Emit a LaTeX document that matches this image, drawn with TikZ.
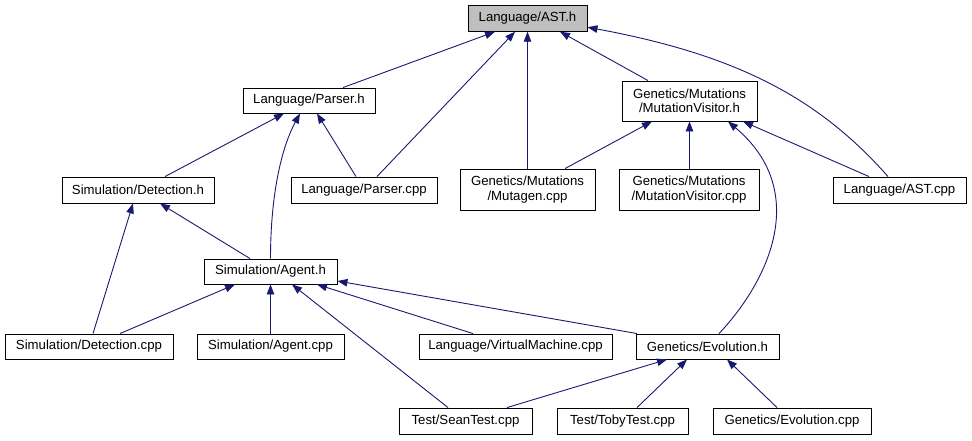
\documentclass[tikz,border=0pt]{standalone}
\usepackage{fontspec}
\setmainfont{Liberation Sans}
\usetikzlibrary{arrows.meta}
\definecolor{navy}{HTML}{191970}
\definecolor{nodegray}{HTML}{BFBFBF}
\tikzset{
  nd/.style={draw=black, line width=0.9pt, fill=white, inner sep=0pt, align=center,
    text=black, font=\fontsize{13.2}{14.5}\selectfont},
  edge/.style={draw=navy, line width=0.9pt, arrows={Triangle[length=10pt,width=7.5pt,fill=navy]-}},
}
\begin{document}
\begin{tikzpicture}[x=1pt,y=-1pt]
\useasboundingbox (0,0) rectangle (972,440);
% nodes
\node[nd, fill=nodegray, minimum width=119pt, minimum height=26pt] (asth) at (527.5,18.25) {Language/AST.h};
\node[nd, minimum width=132pt, minimum height=25pt] (parserh) at (309,100.5) {Language/Parser.h};
\node[nd, minimum width=135pt, minimum height=40pt] (mvh) at (689.5,101) {Genetics/Mutations\\/MutationVisitor.h};
\node[nd, minimum width=152pt, minimum height=26pt] (deth) at (138,190) {Simulation/Detection.h};
\node[nd, minimum width=146pt, minimum height=26pt] (parsercpp) at (364,190) {Language/Parser.cpp};
\node[nd, minimum width=135pt, minimum height=41pt] (mutagen) at (527.5,189.5) {Genetics/Mutations\\/Mutagen.cpp};
\node[nd, minimum width=140pt, minimum height=41pt] (mvcpp) at (689,189.5) {Genetics/Mutations\\/MutationVisitor.cpp};
\node[nd, minimum width=133pt, minimum height=26pt] (astcpp) at (899.5,190) {Language/AST.cpp};
\node[nd, minimum width=133pt, minimum height=25pt] (agenth) at (270.5,271.5) {Simulation/Agent.h};
\node[nd, minimum width=168pt, minimum height=25pt] (detcpp) at (89,346.5) {Simulation/Detection.cpp};
\node[nd, minimum width=147pt, minimum height=25pt] (agentcpp) at (270.5,346.5) {Simulation/Agent.cpp};
\node[nd, minimum width=193pt, minimum height=25pt] (vmcpp) at (515.5,346.5) {Language/VirtualMachine.cpp};
\node[nd, minimum width=143pt, minimum height=25pt] (evoh) at (707.5,346.5) {Genetics/Evolution.h};
\node[nd, minimum width=133pt, minimum height=26pt] (sean) at (465.5,421) {Test/SeanTest.cpp};
\node[nd, minimum width=131pt, minimum height=26pt] (toby) at (622.5,421) {Test/TobyTest.cpp};
\node[nd, minimum width=158pt, minimum height=26pt] (evocpp) at (792,421) {Genetics/Evolution.cpp};
% edges into AST.h
\draw[edge] ([xshift=-32.5pt]asth.south) -- ([xshift=34pt]parserh.north);
\draw[edge] ([xshift=-12.5pt]asth.south) -- ([xshift=13pt]parsercpp.north);
\draw[edge] (asth.south) -- (mutagen.north);
\draw[edge] ([xshift=32.5pt]asth.south) -- ([xshift=-41.5pt]mvh.north);
\draw[edge] ([yshift=-9pt]asth.east) .. controls +(152,28) and +(-68,-77) .. ([xshift=-11.5pt]astcpp.north);
% edges into Parser.h
\draw[edge] ([xshift=-25pt]parserh.south) -- ([xshift=27pt]deth.north);
\draw[edge] ([xshift=-9pt]parserh.south) .. controls +(-20,37) and +(0,-59) .. (agenth.north);
\draw[edge] ([xshift=8pt]parserh.south) -- ([xshift=-8pt]parsercpp.north);
% edges into MutationVisitor.h
\draw[edge] ([xshift=-37.5pt]mvh.south) -- ([xshift=37.5pt]mutagen.north);
\draw[edge] (mvh.south) -- (mvh.south |- mvcpp.north);
\draw[edge] ([xshift=38.5pt]mvh.south) .. controls +(82,69) and +(51,-54) .. ([xshift=11.5pt]evoh.north);
\draw[edge] ([xshift=53.5pt]mvh.south) -- ([xshift=-30.5pt]astcpp.north);
% edges into Detection.h
\draw[edge] ([xshift=22pt]deth.south) -- ([xshift=-20.5pt]agenth.north);
\draw[edge] ([xshift=-5pt]deth.south) -- ([xshift=4pt]detcpp.north);
% edges into Agent.h
\draw[edge] ([xshift=-35.5pt]agenth.south) -- ([xshift=31pt]detcpp.north);
\draw[edge] (agenth.south) -- (agentcpp.north);
\draw[edge] ([xshift=21.5pt]agenth.south) -- ([xshift=-17.5pt]sean.north);
\draw[edge] ([xshift=46.5pt]agenth.south) -- ([xshift=-42.5pt]vmcpp.north);
\draw[edge] ([yshift=-9.5pt]agenth.east) -- ([xshift=-70.5pt]evoh.north);
% edges into Evolution.h
\draw[edge] ([xshift=-40.5pt]evoh.south) -- ([xshift=41.5pt]sean.north);
\draw[edge] ([xshift=-20.5pt]evoh.south) -- ([xshift=14.5pt]toby.north);
\draw[edge] ([xshift=19.5pt]evoh.south) -- ([xshift=-15pt]evocpp.north);
\end{tikzpicture}
\end{document}
